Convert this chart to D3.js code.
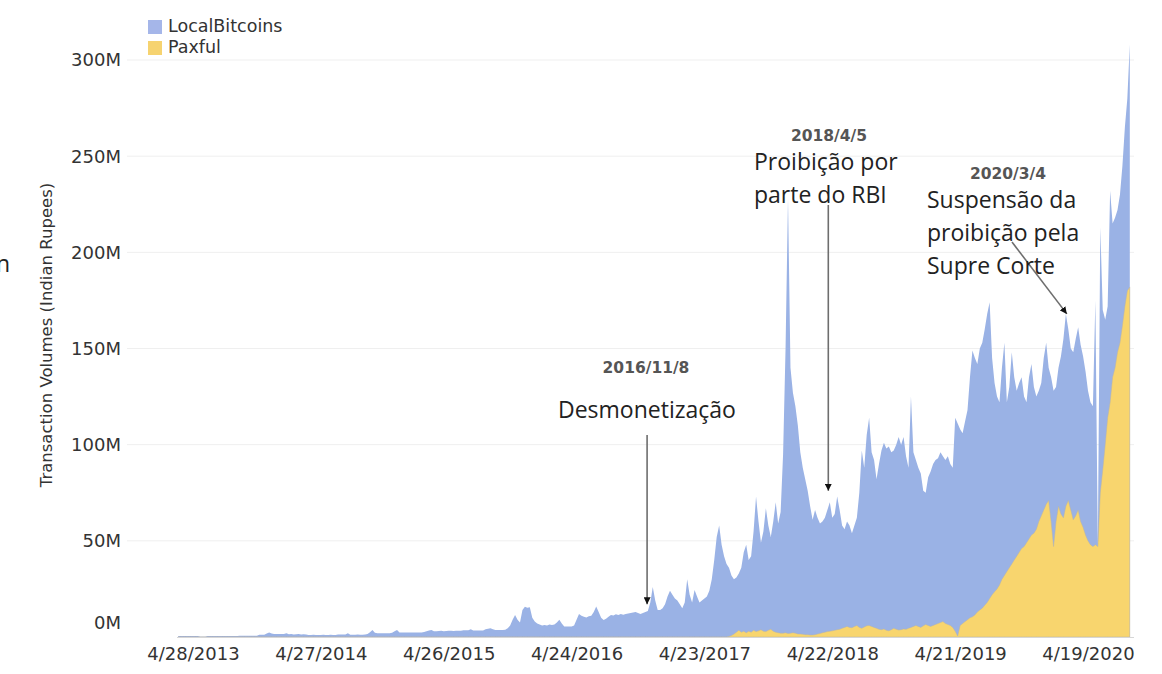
<!DOCTYPE html>
<html><head><meta charset="utf-8">
<script src="https://cdn.jsdelivr.net/npm/d3@7"></script>
<style>body{margin:0;background:#fff} svg{display:block}</style>
</head><body><svg id="c" width="1162" height="674"></svg>
<script>
// ---- data (weekly, millions of Indian Rupees) ----
const firstWeek = "2013-03-17";
const tickDates = ["2013-04-28","2014-04-27","2015-04-26","2016-04-24","2017-04-23","2018-04-22","2019-04-21","2020-04-19"];
const tickLabels = ["4/28/2013","4/27/2014","4/26/2015","4/24/2016","4/23/2017","4/22/2018","4/21/2019","4/19/2020"];
const yTicks = [0,50,100,150,200,250,300];
const yTickLabels = ["0M","50M","100M","150M","200M","250M","300M"];
const seriesNames = ["LocalBitcoins","Paxful"];
const localBitcoins = [
0.5,0.5,0.5,0.5,0.5,0.5,0.5,0.5,0.5,0.1,
0.1,0.1,0.5,0.5,0.5,0.5,0.5,0.5,0.5,0.5,
0.5,0.5,0.5,0.5,0.5,0.7,0.7,0.7,0.7,0.7,
0.7,0.7,0.7,1.2,1.2,1.2,1.8,2.3,1.8,1.5,
1.5,1.5,1.5,1.6,1.9,1.4,1.5,1.3,1.4,1.5,
1.3,1.4,1.3,1.1,1.0,1.2,1.1,1.0,1.1,1.2,
1.0,1.1,1.2,1.0,1.1,1.3,1.3,1.3,1.3,1.9,
1.2,1.2,1.2,1.3,1.2,1.2,1.3,1.5,2.5,3.6,
2.2,1.9,1.9,1.9,1.9,1.9,1.9,2.2,3.0,3.6,
2.4,2.3,2.3,2.3,2.3,2.3,2.3,2.3,2.3,2.3,
2.6,3.0,3.4,3.6,3.0,3.0,3.1,3.2,3.0,3.1,
3.2,3.3,3.1,3.2,3.3,3.2,3.5,3.5,3.5,4.0,
3.4,3.4,3.4,3.4,3.4,4.0,4.3,4.5,4.0,3.6,
3.6,3.6,3.6,3.8,4.5,6,9,11.4,9,7.5,
14,15.7,15.2,15.5,10,8,7,6.5,6.0,6.3,
6.0,6.5,6.2,6.5,7.5,9,7,5.5,5.5,5.5,
5.5,6,9,12,11,10.5,10.2,10.8,11,13,
15.8,13,10,8.8,9.5,10.5,11.5,11.2,11.8,11.5,
12,11.6,12,12.2,12.5,12.8,13,12.5,12,12.5,
13,13.5,18,26,19,14,14,15,17,21,
24,22,20,19,17,15,18,30,22,18,
24.5,21,18,19,20,21,24,30,40,52,
58,48,42,38,36,32,30,31,33,36,
44,48,40,42,55,73,60,49,55,67,
58,52,60,70,59,65,95,150,228,140,
127,120,110,96,88,82,76,68,61,66,
62,59,60,62,66,70,62,64,73,66,
58,56,60,58,54,58,62,75,97,88,
105,114,96,92,82,90,97,101,98,99,
96,97,100,104,100,104,94,88,125,96,
92,88,85,76,75,83,86,90,92,93,
96,94,92,94,90,88,114,111,108,106,
112,118,135,149,145,142,150,153,160,168,
174,145,132,125,122,140,153,122,130,148,
135,128,132,135,125,122,135,142,130,125,
128,132,145,153,140,135,128,130,140,146,
155,168,160,150,148,155,161,152,146,138,
128,122,120,175,47,213,170,165,172,232,
215,218,222,230,245,265,280,308
];
const paxful = [
0,0,0,0,0,0,0,0,0,0, 0,0,0,0,0,0,0,0,0,0,
0,0,0,0,0,0,0,0,0,0, 0,0,0,0,0,0,0,0,0,0,
0,0,0,0,0,0,0,0,0,0, 0,0,0,0,0,0,0,0,0,0,
0,0,0,0,0,0,0,0,0,0, 0,0,0,0,0,0,0,0,0,0,
0,0,0,0,0,0,0,0,0,0, 0,0,0,0,0,0,0,0,0,0,
0,0,0,0,0,0,0,0,0,0, 0,0,0,0,0,0,0,0,0,0,
0,0,0,0,0,0,0,0,0,0, 0,0,0,0,0,0,0,0,0,0,
0,0,0,0,0,0,0,0,0,0, 0,0,0,0,0,0,0,0,0,0,
0,0,0,0,0,0,0,0,0,0, 0,0,0,0,0,0,0,0,0,0,
0,0,0,0,0,0,0,0,0,0, 0,0,0,0,0,0,0,0,0,0,
0,0,0,0,0,0,0,0,0,0, 0,0,0,0,0,0,0,0,0,0,
0,0,0,0,
0.3,0.8,1.5,2.5,3.5,2.5,
3,2.2,3,2.5,3.5,2.8,3.2,3.8,3,2.8,
3.5,4,3,2.5,2.2,2,2.0,2.2,1.8,2,
2.2,2,1.6,1.5,1.4,1.2,1.2,1.0,1.0,1.2,
1.5,1.8,2.2,2.5,2.8,3,3.2,3.5,3.8,4,
4.5,5,5.5,5,4.8,5.5,6,5,4.5,5.2,
5.8,6,5.5,5,4.5,4,3.8,4.2,3.5,3.2,
3.8,4.5,4,3.6,3.8,4.2,4,4.5,5,5.5,
6,5.5,5,5.8,6.5,6,5.5,6,6.5,7,
7.5,8,7,6.5,6,5,3,0.5,6,7,
8,9,10,10.5,11.5,13,14,15,16.5,18,
20,22,23.5,25,27,30,32,34,36,38,
40,42,44,46,47,49,51,53,54,56,
60,63,66,69,71,60,47,60,68,64,
62,68,71,66,61,63,66,60,57,53,
50,48,47,48,47,75,87,100,114,122,
135,140,148,153,162,172,180,182
];
const annotations = [
  {date:"2016-11-08", tip:17, title:"2016/11/8", lines:["Desmonetização"]},
  {date:"2018-04-05", tip:76, title:"2018/4/5", lines:["Proibição por","parte do RBI"]},
  {date:"2020-03-04", tip:168, title:"2020/3/4", lines:["Suspensão da","proibição pela","Supre Corte"]}
];

// ---- drawing ----
const svg = d3.select("#c");
const parse = d3.utcParse("%Y-%m-%d");
const start = parse(firstWeek);
const dates = localBitcoins.map((_, i) => d3.utcDay.offset(start, 7 * i));
const x = d3.scaleUtc().domain([dates[0], dates[dates.length - 1]]).range([178.2, 1129.8]);
const y = d3.scaleLinear().domain([0, 300]).range([637, 60]);

svg.append("rect").attr("width",1162).attr("height",674).attr("fill","#fff");

// gridlines
svg.append("g").selectAll("line").data(yTicks.filter(d=>d>0)).join("line")
  .attr("x1",127).attr("x2",1134).attr("y1",d=>y(d)).attr("y2",d=>y(d))
  .attr("stroke","#efefef").attr("stroke-width",1);

const lbcData = dates.map((d,i)=>({date:d, v:localBitcoins[i]}));
const paxData = dates.map((d,i)=>({date:d, v:paxful[i]}));
const area = d3.area().x(d=>x(d.date)).y0(y(0)).y1(d=>y(d.v));

svg.append("path").datum(lbcData).attr("d",area).attr("fill","#9ab2e5");
svg.append("path").datum(paxData).attr("d",area).attr("fill","#f8d56e")
  .attr("stroke","#b8b4a8").attr("stroke-width",0.7).attr("stroke-opacity",0.7);

// baseline
svg.append("line").attr("x1",177).attr("x2",1134).attr("y1",y(0)+0.5).attr("y2",y(0)+0.5)
  .attr("stroke","#d6d6d6");

// y tick labels
svg.append("g").selectAll("text").data(yTicks).join("text")
  .attr("x",121).attr("y",d=> d===0 ? y(d)-14 : y(d))
  .attr("dy","0.36em").attr("text-anchor","end")
  .attr("font-family","DejaVu Sans").attr("font-size",18).attr("fill","#333")
  .text((d,i)=>yTickLabels[i]);

// x tick labels via axis
const xAxis = d3.axisBottom(x).tickValues(tickDates.map(parse)).tickSize(0).tickPadding(0)
  .tickFormat((d,i)=>tickLabels[i]);
const gx = svg.append("g").attr("transform",`translate(0,${y(0)})`).call(xAxis);
gx.select(".domain").remove();
gx.selectAll("text").attr("y",23).attr("dy",0)
  .attr("font-family","DejaVu Sans").attr("font-size",18).attr("fill","#333");

// y axis title
svg.append("text").attr("transform","translate(52,335) rotate(-90)")
  .attr("text-anchor","middle").attr("font-family","DejaVu Sans").attr("font-size",16.5)
  .attr("fill","#333").text("Transaction Volumes (Indian Rupees)");

// legend
const colors = ["#a5b6e9","#f6d370"];
const lg = svg.append("g");
seriesNames.forEach((n,i)=>{
  lg.append("rect").attr("x",148).attr("y",20+i*21).attr("width",14).attr("height",14).attr("fill",colors[i]);
  lg.append("text").attr("x",168).attr("y",32+i*21).attr("font-family","DejaVu Sans")
    .attr("font-size",17.5).attr("fill","#333").text(n);
});

// left clipped text fragment
svg.append("text").attr("x",-4).attr("y",272).attr("font-family","Open Sans")
  .attr("font-size",23).attr("fill","#222").text("n");

// annotations
svg.append("defs").append("marker").attr("id","ah").attr("viewBox","0 0 10 10")
  .attr("refX",10).attr("refY",5).attr("markerWidth",7).attr("markerHeight",7)
  .attr("markerUnits","userSpaceOnUse").attr("orient","auto")
  .append("path").attr("d","M0,0L10,5L0,10Z").attr("fill","#111");

const layout = [
  {titleX:646, titleY:373, textX:558, textY:418, from:[0,435], dx:1},
  {titleX:829, titleY:141, textX:754, textY:170, from:[0,205], dx:2},
  {titleX:1008, titleY:179, textX:927, textY:208, from:[1012,242], dx:-5}
];
annotations.forEach((a,i)=>{
  const L = layout[i];
  const tx = x(parse(a.date)) + L.dx, ty = y(a.tip);
  const fx = L.from[0] || tx;
  svg.append("line").attr("x1",fx).attr("y1",L.from[1]).attr("x2",tx).attr("y2",ty)
    .attr("stroke","#6e6e6e").attr("stroke-width",1.6).attr("marker-end","url(#ah)");
  svg.append("text").attr("x",L.titleX).attr("y",L.titleY).attr("text-anchor","middle")
    .attr("font-family","DejaVu Sans").attr("font-weight","bold").attr("font-size",15.5)
    .attr("fill","#555").text(a.title);
  a.lines.forEach((t,j)=>{
    svg.append("text").attr("x",L.textX).attr("y",L.textY + j*33)
      .attr("font-family","Open Sans").attr("font-size",23).attr("fill","#222").text(t);
  });
});
</script></body></html>
